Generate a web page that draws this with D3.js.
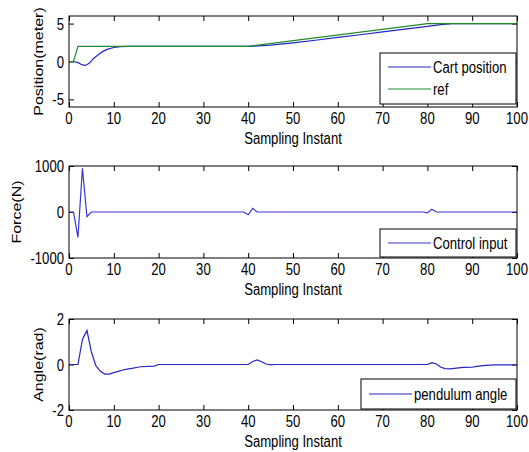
<!DOCTYPE html>
<html>
<head>
<meta charset="utf-8">
<script src="https://cdn.jsdelivr.net/npm/d3@7"></script>
<style>
  body { margin: 0; background: #fff; }
  svg text { font-family: "Liberation Sans", Arial, sans-serif; fill: #000; }
</style>
</head>
<body>
<div id="chart"></div>
<script>
// values
var xTicks = [0, 10, 20, 30, 40, 50, 60, 70, 80, 90, 100];

var cartPosition = [[0,0],[1,0],[2,-0.15],[3,-0.45],[3.7,-0.52],[4.5,-0.25],[5.5,0.4],[6.5,0.9],[7.5,1.3],
  [8.5,1.6],[10,1.85],[11.5,1.97],[13,2],[40,2],[45,2.15],[50,2.45],[55,2.8],[60,3.17],[65,3.53],
  [70,3.9],[75,4.27],[80,4.62],[83,4.87],[85.5,5],[100,5]];
var refPosition = [[0,0],[1,0],[2,2],[40,2],[80,5],[100,5]];

var controlInput = [[0,0],[1,0],[2,-550],[3,950],[4,-100],[5,0],[39,0],[40,-60],[41,80],[42,0],
  [79,0],[80,-20],[81,60],[82,0],[100,0]];

var pendulumAngle = [[0,0],[2,0],[3,1.1],[4,1.5],[5,0.55],[6,-0.05],[7,-0.3],[8,-0.42],[9,-0.42],
  [10,-0.36],[11,-0.3],[12,-0.24],[13,-0.2],[14,-0.17],[16,-0.1],[19,-0.07],[20,0],[40,0],[41,0.13],
  [42,0.2],[43,0.12],[44,0.02],[45,-0.02],[46,0],[80,0],[81,0.08],[82,0.02],[83,-0.12],[84,-0.18],
  [85,-0.19],[86,-0.17],[88,-0.13],[90,-0.12],[91,-0.08],[93,-0.04],[95,-0.02],[100,-0.02]];

var panels = [
  { top: 16, bottom: 107, domain: [-6, 6], ticks: [-5, 0, 5], ylabel: "Position(meter)", labelX: 38,
    series: [{ data: cartPosition, color: "#2626c8", name: "Cart position" },
             { data: refPosition, color: "#1e8c2a", name: "ref" }],
    legend: { x: 380, y: 53, w: 136, h: 51 } },
  { top: 166, bottom: 258, domain: [-1000, 1000], ticks: [-1000, 0, 1000], ylabel: "Force(N)", labelX: 16,
    series: [{ data: controlInput, color: "#3a36d0", name: "Control input" }],
    legend: { x: 380, y: 229, w: 136, h: 28 } },
  { top: 319, bottom: 410, domain: [-2, 2], ticks: [-2, 0, 2], ylabel: "Angle(rad)", labelX: 38,
    series: [{ data: pendulumAngle, color: "#2626c0", name: "pendulum angle" }],
    legend: { x: 361, y: 379, w: 155, h: 30 } }
];

var W = 529, H = 452, left = 69, right = 517;
var sx = 0.82; // text in the picture is horizontally squeezed

var svg = d3.select("#chart").append("svg")
    .attr("width", W)
    .attr("height", H);

var x = d3.scaleLinear().domain([0, 100]).range([left, right]);

panels.forEach(function(p) {
    var y = d3.scaleLinear().domain(p.domain).range([p.bottom, p.top]);
    var g = svg.append("g");

    // ticks inward on all four sides
    g.append("g").attr("transform", "translate(0," + p.bottom + ")")
        .call(d3.axisBottom(x).tickValues(xTicks).tickSize(-5).tickFormat(""));
    g.append("g").attr("transform", "translate(0," + p.top + ")")
        .call(d3.axisTop(x).tickValues(xTicks).tickSize(-5).tickFormat(""));
    g.append("g").attr("transform", "translate(" + left + ",0)")
        .call(d3.axisLeft(y).tickValues(p.ticks).tickSize(-5).tickFormat(""));
    g.append("g").attr("transform", "translate(" + right + ",0)")
        .call(d3.axisRight(y).tickValues(p.ticks).tickSize(-5).tickFormat(""));
    g.selectAll(".domain").remove();
    g.selectAll(".tick line").attr("stroke", "#000");

    // series lines
    var line = d3.line().x(function(d){ return x(d[0]); }).y(function(d){ return y(d[1]); });
    p.series.forEach(function(s) {
        g.append("path").datum(s.data)
            .attr("d", line)
            .attr("fill", "none")
            .attr("stroke", s.color)
            .attr("stroke-width", 1.2);
    });

    // box
    g.append("rect")
        .attr("x", left).attr("y", p.top)
        .attr("width", right - left).attr("height", p.bottom - p.top)
        .attr("fill", "none").attr("stroke", "#000").attr("stroke-width", 1);

    // x tick labels
    xTicks.forEach(function(t) {
        g.append("text")
            .attr("transform", "translate(" + x(t) + "," + (p.bottom + 17) + ") scale(" + sx + ",1)")
            .attr("text-anchor", "middle")
            .style("font-size", "16px")
            .text(t);
    });
    // y tick labels
    p.ticks.forEach(function(t) {
        g.append("text")
            .attr("transform", "translate(" + (left - 5) + "," + (y(t) + 6) + ") scale(" + sx + ",1)")
            .attr("text-anchor", "end")
            .style("font-size", "16px")
            .text(t);
    });

    g.append("text")
        .attr("transform", "translate(" + ((left + right) / 2) + "," + (p.bottom + 37) + ") scale(" + sx + ",1)")
        .attr("text-anchor", "middle")
        .style("font-size", "16px")
        .text("Sampling Instant");

    g.append("text")
        .attr("transform", "translate(" + (p.labelX + 5) + "," + ((p.top + p.bottom) / 2) + ") rotate(-90) scale(1," + sx + ")")
        .attr("text-anchor", "middle")
        .style("font-size", "16px")
        .text(p.ylabel);

    // legend
    var L = p.legend;
    g.append("rect")
        .attr("x", L.x).attr("y", L.y).attr("width", L.w).attr("height", L.h)
        .attr("fill", "#fff").attr("stroke", "#000").attr("stroke-width", 1);
    var rowGap = p.series.length > 1 ? 22 : 0;
    var firstRow = p.series.length > 1 ? L.y + 14 : L.y + L.h / 2;
    p.series.forEach(function(s, i) {
        var ry = firstRow + i * rowGap;
        g.append("line")
            .attr("x1", L.x + 8).attr("x2", L.x + 51)
            .attr("y1", ry).attr("y2", ry)
            .attr("stroke", s.color).attr("stroke-width", 1.2);
        g.append("text")
            .attr("transform", "translate(" + (L.x + 53) + "," + (ry + 6) + ") scale(" + sx + ",1)")
            .style("font-size", "16px")
            .text(s.name);
    });
});
</script>
</body>
</html>
